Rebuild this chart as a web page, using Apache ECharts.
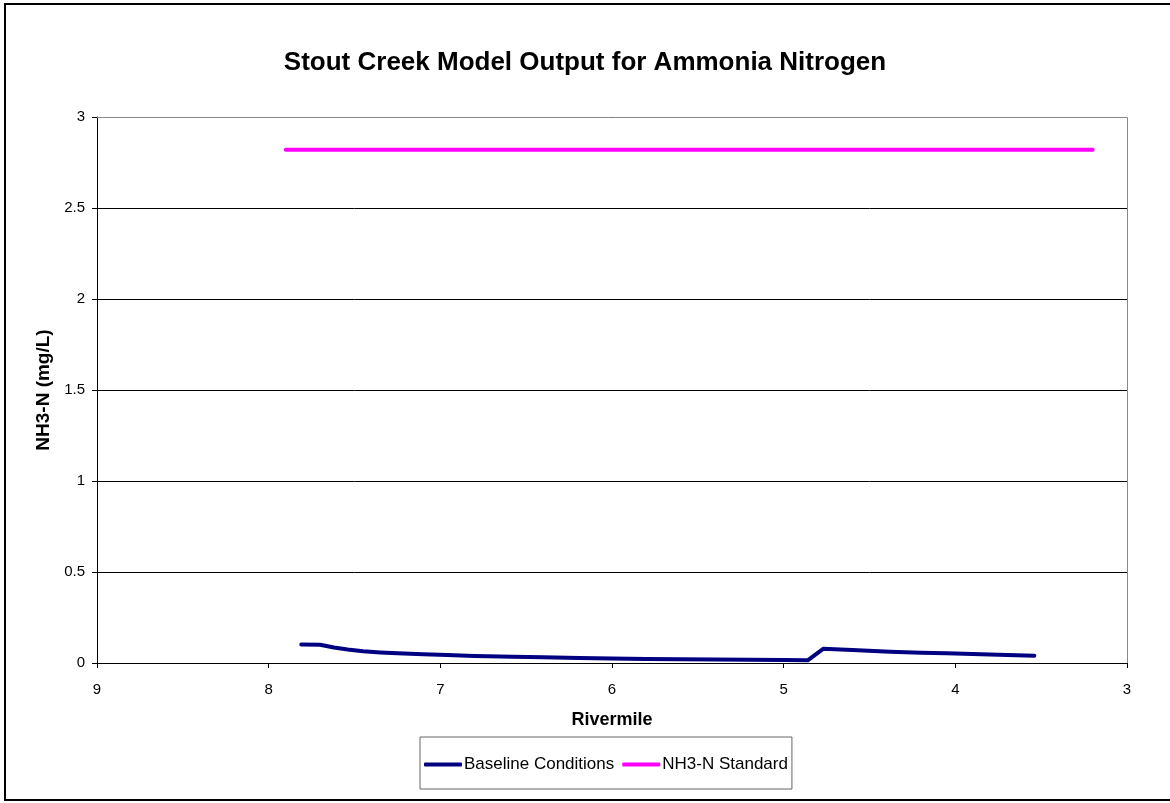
<!DOCTYPE html>
<html>
<head>
<meta charset="utf-8">
<script src="https://cdn.jsdelivr.net/npm/echarts@6/dist/echarts.min.js"></script>
<style>
html,body{margin:0;padding:0;background:#fff;}
#chart{width:1170px;height:803px;}
</style>
</head>
<body>
<div id="chart"></div>
<script>
const titleText = 'Stout Creek Model Output for Ammonia Nitrogen';
const xAxisName = 'Rivermile';
const yAxisName = 'NH3-N (mg/L)';
const seriesNames = ['Baseline Conditions', 'NH3-N Standard'];
const baselineMiles = [7.81, 7.7, 7.62, 7.54, 7.45, 7.35, 7.25, 7.1, 6.96, 6.8, 6.58, 6.4, 6.19, 6.0, 5.8, 5.6, 5.4, 5.2, 5.0, 4.86, 4.77, 4.6, 4.38, 4.2, 4.05, 3.8, 3.54];
const baselineValues = [0.102, 0.1, 0.085, 0.074, 0.065, 0.058, 0.053, 0.048, 0.044, 0.039, 0.035, 0.031, 0.027, 0.025, 0.022, 0.02, 0.019, 0.018, 0.016, 0.015, 0.078, 0.071, 0.062, 0.057, 0.053, 0.047, 0.04];
const standardMiles = [7.9, 3.2];
const standardValues = [2.82, 2.82];

const font = '"Liberation Sans", Arial, sans-serif';
const chart = echarts.init(document.getElementById('chart'));
const pair = (xs, ys) => xs.map((x, i) => [x, ys[i]]);

chart.setOption({
  animation: false,
  backgroundColor: '#fff',
  title: {
    text: titleText, left: 'center', top: 45,
    textStyle: {fontFamily: font, fontSize: 26, fontWeight: 'bold', color: '#000'}
  },
  grid: {left: 97, right: 43, top: 117, bottom: 140},
  legend: {
    left: 420, top: 737,
    padding: [19, 4, 16, 4],
    borderColor: '#666', borderWidth: 1,
    itemWidth: 38, itemHeight: 4, itemGap: 8,
    icon: 'roundRect',
    textStyle: {fontFamily: font, fontSize: 17, color: '#000', padding: [0, 0, 0, -3]},
    data: seriesNames
  },
  xAxis: {
    type: 'value', min: 3, max: 9, interval: 1, inverse: true,
    name: xAxisName, nameLocation: 'middle', nameGap: 48,
    nameTextStyle: {fontFamily: font, fontSize: 18, fontWeight: 'bold', color: '#000'},
    axisLine: {show: true, lineStyle: {color: '#000', width: 1}},
    axisTick: {show: true, length: 5, lineStyle: {color: '#000'}},
    axisLabel: {fontFamily: font, fontSize: 15, color: '#000', margin: 19},
    splitLine: {show: false}
  },
  yAxis: {
    type: 'value', min: 0, max: 3, interval: 0.5,
    name: yAxisName, nameLocation: 'middle', nameGap: 42,
    nameTextStyle: {fontFamily: font, fontSize: 19, fontWeight: 'bold', color: '#000'},
    axisLine: {show: true, lineStyle: {color: '#000', width: 1}},
    axisTick: {show: true, length: 5, lineStyle: {color: '#000'}},
    axisLabel: {fontFamily: font, fontSize: 15, color: '#000', margin: 12},
    splitLine: {show: true, lineStyle: {color: '#000', width: 1}}
  },
  graphic: [
    {type: 'rect', shape: {x: 5, y: 4, width: 1175, height: 796}, style: {fill: null, stroke: '#000', lineWidth: 2}, silent: true, z: 100},
    {type: 'polyline', shape: {points: [[97, 117.5], [1127.5, 117.5], [1127.5, 663]]}, style: {fill: null, stroke: '#888', lineWidth: 1}, silent: true, z: 5}
  ],
  series: [
    {
      name: seriesNames[0], type: 'line', data: pair(baselineMiles, baselineValues),
      showSymbol: false, symbol: 'none', color: '#000080',
      lineStyle: {color: '#000080', width: 4, cap: 'round', join: 'round'}, z: 3
    },
    {
      name: seriesNames[1], type: 'line', data: pair(standardMiles, standardValues),
      showSymbol: false, symbol: 'none', color: '#FF00FF',
      lineStyle: {color: '#FF00FF', width: 4, cap: 'round'}, z: 3
    }
  ]
});
</script>
</body>
</html>
